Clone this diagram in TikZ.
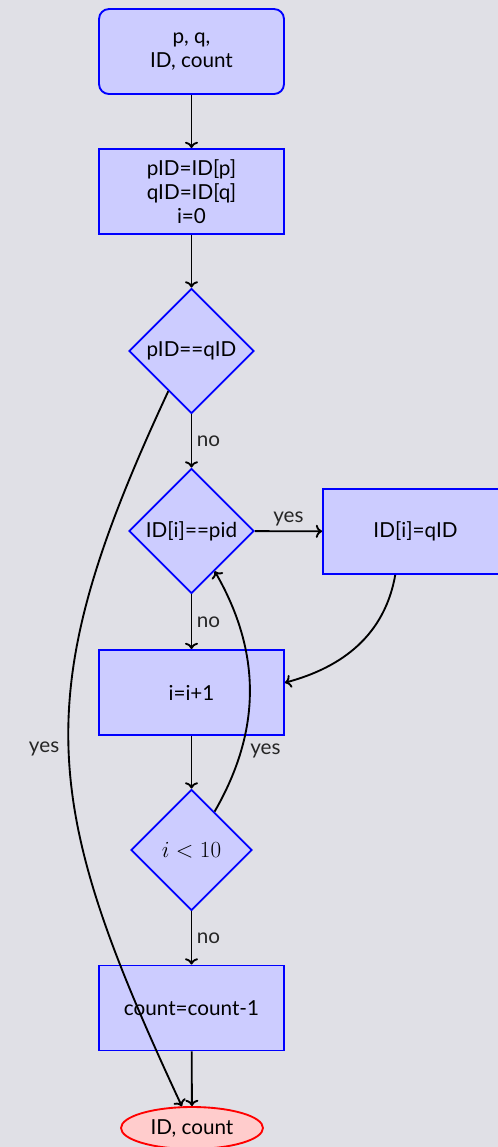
\documentclass[tikz,border=0pt]{standalone}
\usepackage{fontspec}
\setmainfont{Lato}
\usetikzlibrary{shapes.geometric,arrows.meta}
\definecolor{bg}{RGB}{224,224,230}
\begin{document}
\begin{tikzpicture}[x=0.75pt,y=-0.75pt,
  font=\fontsize{15.5}{18}\selectfont,
  box/.style={rectangle,draw=blue,fill=blue!20,line width=1.4pt,minimum width=138.75pt,minimum height=63.75pt,inner sep=2pt,align=center},
  startbox/.style={box,rounded corners=7.5pt},
  decision/.style={diamond,draw=blue,fill=blue!20,line width=1.4pt,aspect=1,inner sep=0pt,minimum size=93.75pt,align=center},
  final/.style={ellipse,draw=red,fill=red!20,line width=1.4pt,minimum width=106.5pt,minimum height=31.5pt,inner sep=0pt},
  conn/.style={->,line width=1.4pt,black},
  lbl/.style={text=black!85}
]
\path[use as bounding box,fill=bg] (0,0) rectangle (498,1147);
\node[startbox] (start) at (191.5,51.5) {p, q,\\ID, count};
\node[box] (init) at (191.5,191.5) {pID=ID[p]\\qID=ID[q]\\i=0};
\node[decision] (d1) at (191.5,351) {pID==qID};
\node[decision] (d2) at (191.5,531) {ID[i]==pid};
\node[box] (assign) at (415.5,531.5) {ID[i]=qID};
\node[box] (inc) at (191.5,692.5) {i=i+1};
\node[decision,minimum size=90.75pt] (d3) at (191.5,850) {\fontsize{17}{20}\selectfont$i<10$};
\node[box] (dec) at (191.5,1008) {count=count-1};
\node[final] (out) at (192,1128) {ID, count};

\draw[conn] (start) -- (init);
\draw[conn] (init) -- (d1);
\draw[conn] (d1) -- node[right,lbl] {no} (d2);
\draw[conn] (d2) -- node[above,lbl] {yes} (assign);
\draw[conn] (d2) -- node[right,lbl] {no} (inc);
\draw[conn] (inc) -- (d3);
\draw[conn] (d3) -- node[right,lbl] {no} (dec);
\draw[conn] (dec) -- (out);
\draw[conn] (d3.59) to[bend right=30] node[pos=0.25,right,xshift=3pt,lbl] {yes} (d2.-60);
\draw[conn] (assign.-115) to[out=-100,in=15] (inc.6);
\draw[conn] (d1.240) to[out=245,in=115,looseness=1.2] node[pos=0.5,left,xshift=-3pt,lbl] {yes} (out.115);
\end{tikzpicture}
\end{document}
